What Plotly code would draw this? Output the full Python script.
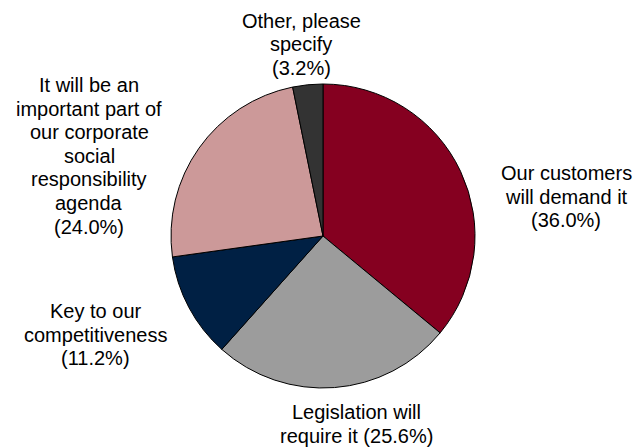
import plotly.graph_objects as go

categories = [
    "Our customers will demand it",
    "Legislation will require it",
    "Key to our competitiveness",
    "It will be an important part of our corporate social responsibility agenda",
    "Other, please specify",
]
values = [36.0, 25.6, 11.2, 24.0, 3.2]
colors = ["#850020", "#9C9C9C", "#002044", "#CC9999", "#333333"]

# how each label is broken into lines (the percentage is appended from values)
label_lines = [
    ["Our customers", "will demand it", "{p}"],
    ["Legislation will", "require it {p}"],
    ["Key to our", "competitiveness", "{p}"],
    ["It will be an", "important part of", "our corporate", "social",
     "responsibility", "agenda", "{p}"],
    ["Other, please", "specify", "{p}"],
]
# label x centre and first-line baseline, in pixels from top-left
label_pos = [(566, 180), (356, 419), (96, 318), (89, 92), (301, 27.5)]
LINE_H = 23.6
FONT_SIZE = 20

W, H = 637, 448
cx, cy, r = 323, 236, 152

fig = go.Figure(go.Pie(
    labels=categories,
    values=values,
    marker=dict(colors=colors, line=dict(color="black", width=1)),
    sort=False,
    direction="clockwise",
    rotation=0,
    textinfo="none",
    hoverinfo="label+percent",
    showlegend=False,
    domain=dict(x=[(cx - r) / W, (cx + r) / W], y=[1 - (cy + r) / H, 1 - (cy - r) / H]),
))

for lines, v, (px, base) in zip(label_lines, values, label_pos):
    for i, line in enumerate(lines):
        yline = base + i * LINE_H - 7
        fig.add_annotation(
            x=px / W, y=1 - yline / H, xref="paper", yref="paper",
            text=line.format(p=f"({v:.1f}%)"),
            showarrow=False, xanchor="center", yanchor="middle", align="center",
            font=dict(family="Liberation Sans, Arial, sans-serif", size=FONT_SIZE, color="#000000"),
        )

fig.update_layout(
    width=W, height=H,
    margin=dict(l=0, r=0, t=0, b=0),
    paper_bgcolor="white", plot_bgcolor="white",
)

fig.write_html("out.html")
